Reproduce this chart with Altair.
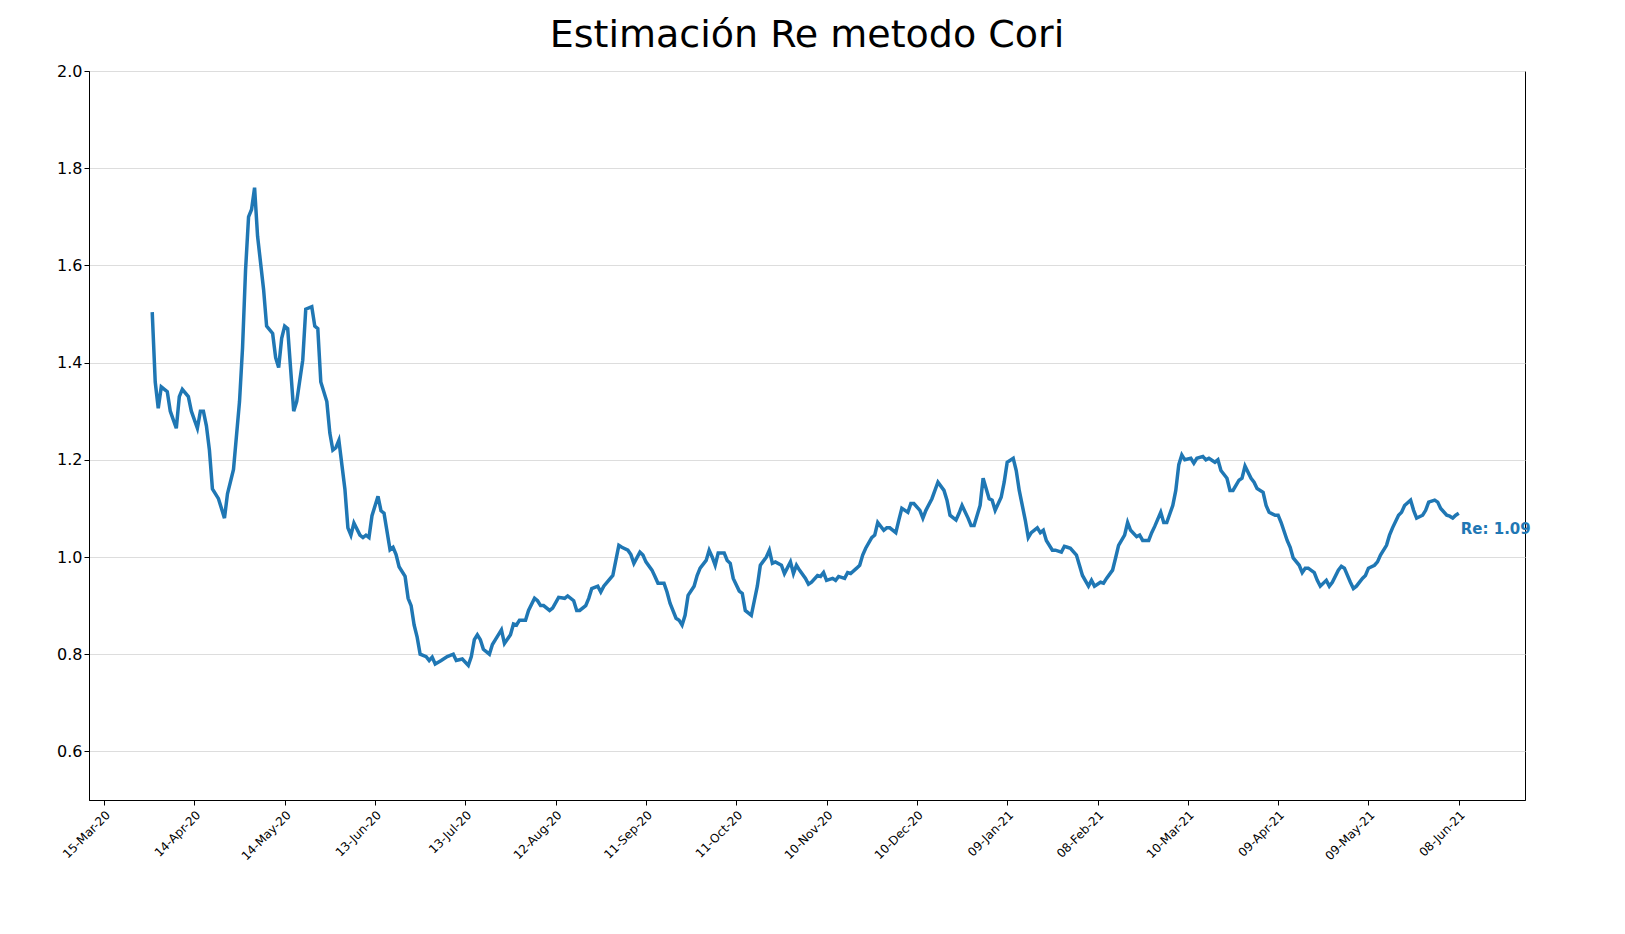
import pandas as pd
import altair as alt

# days since 15-Mar-2020 and Re estimate
days = [16, 17, 18, 19, 21, 22, 24, 25, 26, 28, 29, 31, 32, 33, 34, 35, 36, 38, 40, 41, 43, 45, 46, 47, 48, 49, 50,
        51, 53, 54, 56, 57, 58, 59, 60, 61, 62, 63, 64, 66, 67, 69, 70, 71, 72, 74, 75, 76, 77, 78, 79, 80, 81, 82,
        83, 85, 86, 87, 88, 89, 91, 92, 93, 95, 96, 97, 98, 100, 101, 102, 103, 104, 105, 107, 108, 109, 110, 112,
        114, 116, 117, 119, 121, 122, 123, 124, 125, 126, 128, 129, 130, 132, 133, 135, 136, 137, 138, 140, 141,
        143, 144, 145, 146, 148, 149, 151, 153, 154, 156, 157, 158, 160, 161, 162, 164, 165, 166, 169, 170, 171,
        172, 174, 175, 176, 178, 179, 180, 182, 183, 184, 186, 187, 188, 190, 191, 192, 193, 194, 196, 197, 198,
        200, 201, 202, 203, 204, 206, 207, 208, 209, 211, 212, 213, 215, 216, 217, 218, 220, 221, 222, 223, 225,
        226, 228, 229, 230, 231, 233, 234, 235, 237, 238, 239, 240, 242, 243, 244, 246, 247, 248, 250, 251, 252,
        253, 255, 256, 257, 259, 260, 261, 263, 264, 265, 267, 268, 269, 271, 272, 273, 275, 276, 277, 279, 280,
        281, 283, 284, 285, 287, 288, 289, 291, 292, 294, 295, 296, 298, 299, 300, 302, 303, 304, 306, 307, 308,
        310, 311, 312, 313, 315, 316, 318, 319, 320, 321, 323, 324, 325, 327, 328, 329, 331, 332, 333, 335, 336,
        337, 339, 340, 341, 343, 344, 345, 347, 348, 349, 351, 352, 353, 355, 356, 357, 358, 359, 361, 362, 363,
        365, 366, 367, 369, 370, 371, 373, 374, 375, 377, 378, 379, 381, 382, 383, 385, 386, 387, 389, 390, 391,
        393, 394, 395, 397, 398, 399, 400, 402, 403, 404, 406, 407, 408, 410, 411, 412, 414, 415, 416, 418, 419,
        420, 422, 423, 424, 426, 427, 428, 430, 431, 432, 434, 435, 436, 438, 439, 440, 442, 443, 444, 446, 447,
        448, 449, 450]
re_values = [1.504, 1.36, 1.306, 1.35, 1.34, 1.30, 1.265, 1.33, 1.345, 1.33, 1.30, 1.265, 1.30, 1.30, 1.27, 1.22,
             1.14, 1.12, 1.08, 1.13, 1.18, 1.32, 1.43, 1.59, 1.70, 1.715, 1.76,
             1.66, 1.55, 1.475, 1.46, 1.41, 1.39, 1.45, 1.475, 1.47, 1.385, 1.30, 1.32, 1.405, 1.51, 1.515, 1.475,
             1.47, 1.36, 1.32, 1.255, 1.22, 1.225, 1.24, 1.19, 1.14, 1.06, 1.045,
             1.07, 1.045, 1.04, 1.045, 1.04, 1.085, 1.125, 1.095, 1.09, 1.015, 1.02, 1.005, 0.98, 0.96, 0.915, 0.90,
             0.86, 0.835, 0.80, 0.795, 0.787, 0.794, 0.78, 0.787,
             0.795, 0.80, 0.787, 0.79, 0.777, 0.795, 0.83, 0.84, 0.83, 0.81, 0.80, 0.82, 0.83, 0.85, 0.822, 0.84,
             0.862, 0.86, 0.87, 0.87, 0.89,
             0.915, 0.91, 0.90, 0.90, 0.89, 0.895, 0.917, 0.915, 0.92, 0.91, 0.89, 0.89, 0.90, 0.915, 0.935, 0.94,
             0.928, 0.94, 0.962, 0.993, 1.024,
             1.02, 1.014, 1.005, 0.987, 1.01, 1.004, 0.99, 0.973, 0.96, 0.946, 0.946, 0.928, 0.905, 0.874, 0.87,
             0.86, 0.88, 0.921, 0.94, 0.962, 0.977,
             0.993, 1.014, 1.0, 0.983, 1.008, 1.008, 0.993, 0.987, 0.956, 0.93, 0.925, 0.89, 0.88, 0.91, 0.94,
             0.983, 1.0, 1.014, 0.987, 0.99, 0.983,
             0.966, 0.99, 0.966, 0.983, 0.973, 0.956, 0.944, 0.948, 0.962, 0.96, 0.968, 0.952, 0.956, 0.952, 0.96,
             0.956, 0.968, 0.966, 0.977, 0.983, 1.004,
             1.018, 1.04, 1.045, 1.071, 1.055, 1.06, 1.06, 1.05, 1.076, 1.10, 1.092, 1.11, 1.11, 1.096, 1.08, 1.096,
             1.12, 1.137, 1.154, 1.137, 1.117,
             1.086, 1.076, 1.09, 1.106, 1.08, 1.065, 1.065, 1.106, 1.162, 1.12, 1.117, 1.096, 1.123, 1.154, 1.195,
             1.203, 1.178, 1.137, 1.076, 1.04, 1.05,
             1.06, 1.05, 1.055, 1.034, 1.014, 1.014, 1.01, 1.022, 1.02, 1.018, 1.004, 0.983, 0.962, 0.94, 0.952,
             0.94, 0.948, 0.946, 0.956, 0.973, 0.998,
             1.024, 1.045, 1.071, 1.055, 1.042, 1.045, 1.034, 1.034, 1.05, 1.063, 1.092, 1.071, 1.071, 1.106, 1.137,
             1.19, 1.21, 1.20, 1.203, 1.193, 1.203,
             1.207, 1.20, 1.203, 1.195, 1.20, 1.178, 1.162, 1.137, 1.137, 1.158, 1.162, 1.187, 1.162, 1.154, 1.141,
             1.133, 1.106, 1.092, 1.086, 1.086, 1.071,
             1.034, 1.02, 0.998, 0.983, 0.968, 0.977, 0.977, 0.968, 0.952, 0.94, 0.952, 0.94, 0.948, 0.973, 0.981,
             0.977, 0.948, 0.935, 0.94, 0.956, 0.962,
             0.977, 0.983, 0.99, 1.004, 1.024, 1.045, 1.06, 1.086, 1.092, 1.106, 1.117, 1.096, 1.08, 1.086, 1.096,
             1.113, 1.117, 1.113, 1.10, 1.086, 1.084,
             1.08, 1.086, 1.09]

tick_days = list(range(0, 451, 30))

start = pd.Timestamp("2020-03-15")
to_ms = lambda d: int((start + pd.Timedelta(days=d)).timestamp() * 1000)

df = pd.DataFrame({"date": [to_ms(d) for d in days], "re": re_values})
last = df.tail(1).assign(label="Re: %.2f" % re_values[-1])

x = alt.X("date:T", title=None,
          scale=alt.Scale(type="utc", domain=[to_ms(-5), to_ms(472)], nice=False),
          axis=alt.Axis(values=[to_ms(d) for d in tick_days],
                        labelExpr="utcFormat(datum.value, '%d-%b-%y')",
                        labelAngle=315, labelFontSize=12, grid=False, labelColor="black",
                        tickColor="black", domainColor="black", labelPadding=4))
y = alt.Y("re:Q", title=None, scale=alt.Scale(domain=[0.5, 2.0], nice=False),
          axis=alt.Axis(values=[0.6, 0.8, 1.0, 1.2, 1.4, 1.6, 1.8, 2.0], format=".1f", labelFontSize=16,
                        gridColor="#dddddd", labelColor="black", tickColor="black", domainColor="black"))

line = alt.Chart(df).mark_line(color="#1f77b4", strokeWidth=3.5).encode(x=x, y=y)
text = alt.Chart(last).mark_text(align="left", dx=2, dy=16, fontWeight="bold", fontSize=15,
                                 color="#1f77b4").encode(x="date:T", y="re:Q", text="label:N")

chart = (line + text).properties(
    width=1436, height=729,
    autosize=alt.AutoSizeParams(type="none"),
    padding={"left": 81, "top": 63, "right": 30, "bottom": 70},
    title=alt.TitleParams("Estimación Re metodo Cori", fontSize=38, fontWeight="normal", offset=8,
                          anchor="middle"),
).configure(font="DejaVu Sans").configure_view(stroke="black", strokeWidth=1)

chart.save("out.html", embed_options={"renderer": "svg", "actions": False})
